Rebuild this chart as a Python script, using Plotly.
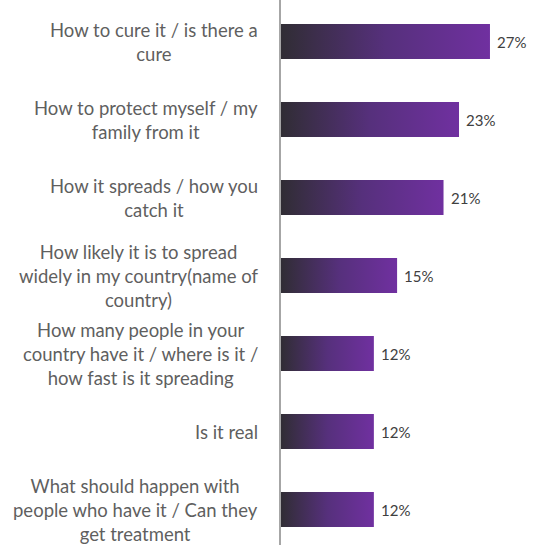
import plotly.graph_objects as go

# Survey: what people most want to know about the virus
categories = [
    "How to cure it / is there a<br>cure",
    "How to protect myself / my<br>family from it",
    "How it spreads / how you<br>catch it",
    "How likely it is to spread<br>widely in my country(name of<br>country)",
    "How many people in your<br>country have it / where is it /<br>how fast is it spreading",
    "Is it real",
    "What should happen with<br>people who have it / Can they<br>get treatment",
]
values = [27, 23, 21, 15, 12, 12, 12]
value_labels = [f"{v}%" for v in values]

BAR_HALF = 0.225
gradient = [[0.0, "#302d34"], [0.5, "#56307c"], [1.0, "#7030a0"]]

fig = go.Figure()

# Each bar is a filled polygon so it can carry a left-to-right gradient
for i, v in enumerate(values):
    fig.add_trace(go.Scatter(
        x=[0, v, v, 0, 0],
        y=[i - BAR_HALF, i - BAR_HALF, i + BAR_HALF, i + BAR_HALF, i - BAR_HALF],
        mode="lines",
        line=dict(width=0),
        fill="toself",
        fillgradient=dict(type="horizontal", colorscale=gradient),
        hoverinfo="skip",
        showlegend=False,
    ))

# Value labels just past the bar ends
for i, (v, lab) in enumerate(zip(values, value_labels)):
    fig.add_annotation(
        x=v, xref="x", y=i, yref="y",
        text=lab, showarrow=False,
        xanchor="left", yanchor="middle", xshift=5,
        font=dict(family="Lato", size=15, color="#404040"),
    )

# Category labels, centred text blocks right-aligned against the axis
for i, c in enumerate(categories):
    fig.add_annotation(
        x=0, xref="paper", y=i, yref="y",
        text=c, showarrow=False,
        xanchor="right", yanchor="middle", align="center",
        xshift=-21,
        font=dict(family="Lato", size=18.5, color="#5f5f5f"),
    )

fig.update_layout(
    width=533, height=545,
    margin=dict(l=281, r=0, t=0, b=0),
    paper_bgcolor="white", plot_bgcolor="white",
    xaxis=dict(range=[0, 32.56], visible=False, fixedrange=True),
    yaxis=dict(
        range=[6.455, -0.532],
        showticklabels=False, showgrid=False, zeroline=False,
        showline=True, linecolor="#a6a6a6", linewidth=1.5,
        ticks="",
    ),
)

fig.write_html("out.html")
